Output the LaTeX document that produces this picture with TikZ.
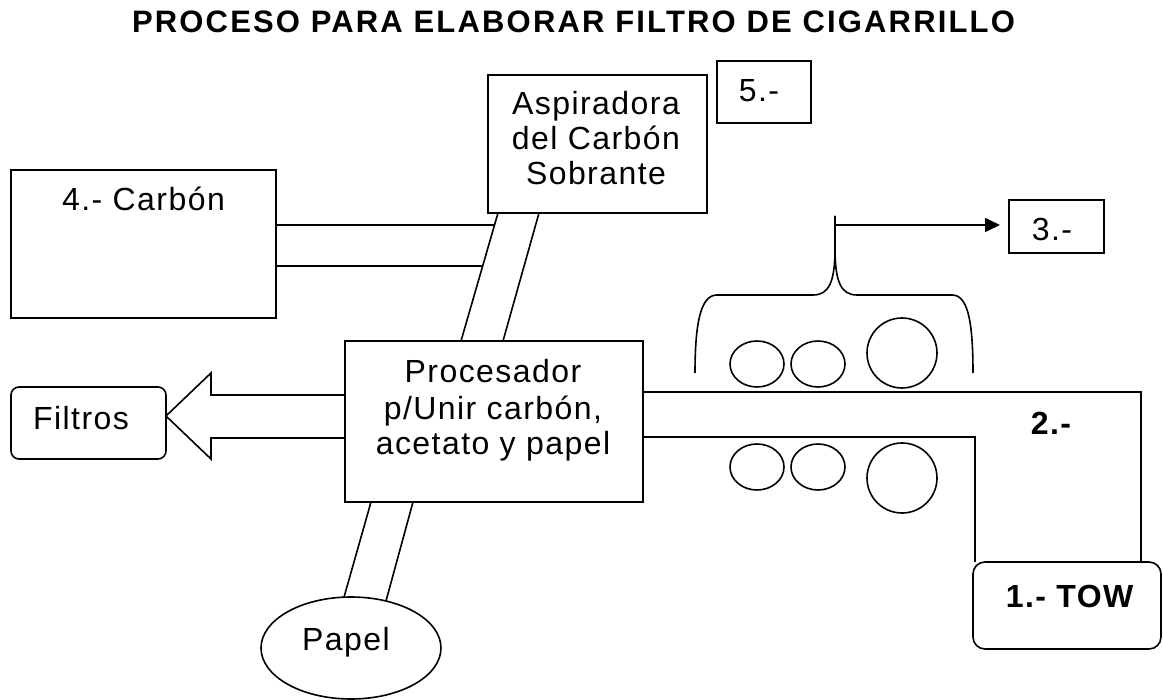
\documentclass[tikz,border=0pt]{standalone}
\usepackage{fontspec}
\setmainfont{Liberation Sans}[LetterSpace=4.5]
\usetikzlibrary{arrows.meta,calc,shapes.geometric}
\begin{document}
\begin{tikzpicture}[x=1pt,y=-1pt,line width=1.6pt,
  boxnode/.style={draw,rectangle,inner sep=0pt,outer sep=0pt},
  roundnode/.style={boxnode,rounded corners=#1},
  txt/.style={inner sep=0pt,anchor=base,font=\fontsize{32}{36}\selectfont},
  txtl/.style={txt,anchor=base west},
  btxt/.style={txtl,font=\fontsize{32}{36}\selectfont\bfseries},
  pipe/.style={line width=1.6pt}]
\useasboundingbox (0,0) rectangle (1163,700);
% title
\node[txt,font=\fontsize{31}{36}\selectfont\bfseries\addfontfeatures{LetterSpace=7}] (title) at (573.5,33) {PROCESO PARA ELABORAR FILTRO DE CIGARRILLO};
% boxes
\node[boxnode,minimum width=265pt,minimum height=148pt] (carbon) at (143.5,244) {};
\node[boxnode,minimum width=219pt,minimum height=138pt] (asp) at (597.5,144) {};
\node[boxnode,minimum width=94pt,minimum height=62pt] (b5) at (764,92) {};
\node[boxnode,minimum width=95pt,minimum height=53pt] (b3) at (1056.5,226.5) {};
\node[boxnode,minimum width=298pt,minimum height=161pt] (proc) at (494,421.5) {};
\node[roundnode=8pt,minimum width=155pt,minimum height=72pt] (filtros) at (88.5,423) {};
\node[roundnode=12pt,minimum width=188pt,minimum height=87pt] (tow) at (1067,605.5) {};
\node[draw,ellipse,inner sep=0pt,minimum width=180pt,minimum height=102pt] (papel) at (351,648) {};
% texts
\node[txt] (carbont) at (143.5,211) {4.- Carbón};
\node[txt] (asp1) at (596,115) {Aspiradora};
\node[txt] (asp2) at (596,150) {del Carbón};
\node[txt] (asp3) at (596,185) {Sobrante};
\node[txt] (proc1) at (493,383) {Procesador};
\node[txt] (proc2) at (493,420) {p/Unir carbón,};
\node[txt] (proc3) at (493,455) {acetato y papel};
\node[txt] (filtrost) at (81,430) {Filtros};
\node[txt] (papelt) at (346,650) {Papel};
\node[txtl] (t5) at (738,102) {5.-};
\node[txtl] (t3) at (1031,241) {3.-};
\node[btxt] (t2) at (1030,435) {2.-};
\node[btxt] (tow1) at (1005,607) {1.- TOW};
% pipes carbon -> aspiradora/procesador
\coordinate (c1) at (494.5,225);
\coordinate (c2) at (482.7,266);
\draw[pipe] (carbon.east |- c1) -- (c1);
\draw[pipe] (carbon.east |- c2) -- (c2);
\draw[pipe] ($(asp.south west)+(10,0)$) -- ($(proc.north west)+(116,0)$);
\draw[pipe] ($(asp.south west)+(51,0)$) -- ($(proc.north west)+(158,0)$);
% pipes procesador -> papel
\coordinate (p1) at (344,597.2);
\coordinate (p2) at (386,601);
\draw[pipe] ($(proc.south west)+(26,0)$) -- (p1);
\draw[pipe] ($(proc.south west)+(68,0)$) -- (p2);
% big arrow to filtros
\draw[pipe,line join=miter] (proc.west |- 0,395) -- (211,395) -- (211,373) -- (filtros.east |- 0,416) -- (211,459) -- (211,438) -- (proc.west |- 0,438);
% channel from TOW
\draw[pipe] (proc.east |- 0,392) -- (1141,392) -- (1141,0 |- tow.north);
\draw[pipe] (proc.east |- 0,437) -- (975,437) -- (975,0 |- tow.north);
% rollers
\draw[pipe] (757,364) ellipse [x radius=27pt,y radius=23pt];
\draw[pipe] (818,364) ellipse [x radius=27pt,y radius=23pt];
\draw[pipe] (902,353) circle [radius=35pt];
\draw[pipe] (757,467) ellipse [x radius=27pt,y radius=23pt];
\draw[pipe] (818,467) ellipse [x radius=27pt,y radius=23pt];
\draw[pipe] (902,478) circle [radius=35pt];
% brace
\coordinate (tip) at (835,216);
\draw[pipe] (695,373) .. controls (695,318) and (702,295) .. (717,295) -- (813,295)
  .. controls (829,295) and (835,282) .. (835,248) -- (tip);
\draw[pipe] (tip) -- (835,248) .. controls (835,282) and (841,295) .. (857,295) -- (952,295)
  .. controls (967,295) and (973,318) .. (973,373);
\coordinate (a0) at (835,225);
\draw[pipe,-{Triangle[length=15pt,width=14pt]},shorten >=9pt] (a0) -- (b3.west |- a0);
\end{tikzpicture}
\end{document}
